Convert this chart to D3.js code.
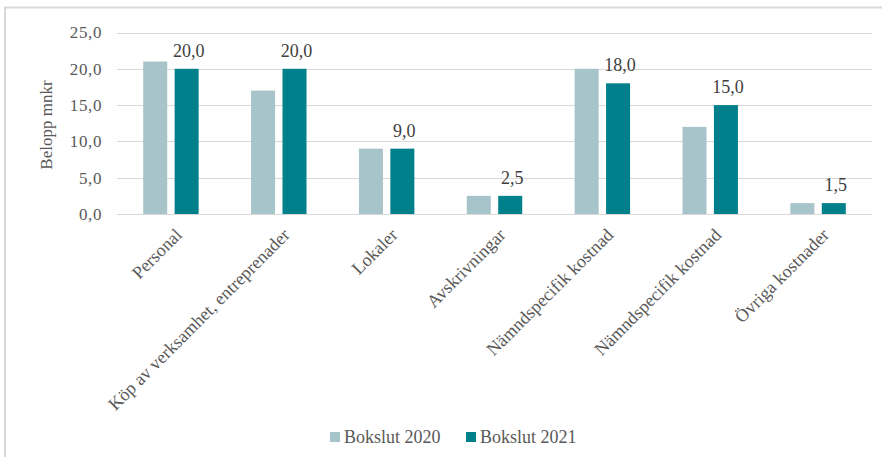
<!doctype html>
<html lang="sv">
<head>
<meta charset="utf-8">
<title>Bokslut 2020 / 2021</title>
<script src="https://d3js.org/d3.v7.min.js"></script>
<style>
  body { margin: 0; background: #fff; }
</style>
</head>
<body>
<div id="chart"></div>
<script>
// data
var categories = ["Personal", "Köp av verksamhet, entreprenader", "Lokaler", "Avskrivningar",
                  "Nämndspecifik kostnad", "Nämndspecifik kostnad", "Övriga kostnader"];
var seriesNames = ["Bokslut 2020", "Bokslut 2021"];
var values2020 = [21.0, 17.0, 9.0, 2.5, 20.0, 12.0, 1.5];
var values2021 = [20.0, 20.0, 9.0, 2.5, 18.0, 15.0, 1.5];
var yTicks = [0, 5, 10, 15, 20, 25];
var colors = ["#a7c4ca", "#00808b"];

var width = 882, height = 457;
var serif = "'Times New Roman', Times, Tinos, 'Noto Serif', 'DejaVu Serif Condensed', serif";

var rows = categories.map(function(c, i) {
    return {i: i, name: c, vals: [values2020[i], values2021[i]]};
});

var svg = d3.select("#chart").append("svg")
    .attr("width", width)
    .attr("height", height)
    .style("font-family", serif);

// frame (only top and left edges show)
svg.append("path")
    .attr("d", "M5,470V7.5H890")
    .attr("fill", "none")
    .attr("stroke", "#d9d9d9")
    .attr("stroke-width", 2);

var y = d3.scaleLinear().domain([0, 25]).range([214, 32.5]);

var x0 = d3.scaleBand()
    .domain(d3.range(categories.length))
    .range([117, 872])
    .paddingInner(0.486)
    .paddingOuter(0.243);

var x1 = d3.scaleBand()
    .domain([0, 1])
    .range([0, x0.bandwidth()])
    .paddingInner(0.236);

// gridlines
svg.append("g")
    .selectAll("line")
    .data(yTicks)
    .join("line")
    .attr("x1", 117)
    .attr("x2", 872)
    .attr("y1", function(d) { return Math.round(y(d)) + 0.5; })
    .attr("y2", function(d) { return Math.round(y(d)) + 0.5; })
    .attr("stroke", "#d9d9d9")
    .attr("stroke-width", 1);

// y tick labels
svg.append("g")
    .selectAll("text")
    .data(yTicks)
    .join("text")
    .attr("x", 102)
    .attr("y", function(d) { return y(d); })
    .attr("dy", "0.35em")
    .attr("text-anchor", "end")
    .attr("fill", "#595959")
    .style("font-size", "17px")
    .style("letter-spacing", "0.6px")
    .text(function(d) { return d3.format(".1f")(d).replace(".", ","); });

// y axis title
svg.append("text")
    .attr("transform", "translate(52,125) rotate(-90)")
    .attr("text-anchor", "middle")
    .attr("fill", "#595959")
    .style("font-size", "17px")
    .text("Belopp mnkr");

// bars
var groups = svg.append("g")
    .selectAll("g")
    .data(rows)
    .join("g")
    .attr("transform", function(d) { return "translate(" + x0(d.i) + ",0)"; });

groups.selectAll("rect")
    .data(function(d) { return d.vals; })
    .join("rect")
    .attr("x", function(d, j) { return x1(j); })
    .attr("y", function(d) { return y(d); })
    .attr("width", x1.bandwidth())
    .attr("height", function(d) { return y(0) - y(d); })
    .attr("fill", function(d, j) { return colors[j]; });

// data labels on the 2021 series only
groups.append("text")
    .attr("x", function(d) { return x1(1) + x1.bandwidth() / 2 + 2; })
    .attr("y", function(d) { return y(d.vals[1]) - 12; })
    .attr("text-anchor", "middle")
    .attr("fill", "#404040")
    .style("font-size", "18px")
    .text(function(d) { return d3.format(".1f")(d.vals[1]).replace(".", ","); });

// category labels, rotated
svg.append("g")
    .selectAll("text")
    .data(rows)
    .join("text")
    .attr("transform", function(d) {
        return "translate(" + (x0(d.i) + x0.bandwidth() / 2 + 3) + ",227) rotate(-45)";
    })
    .attr("dy", "0.71em")
    .attr("text-anchor", "end")
    .attr("fill", "#595959")
    .style("font-size", "18px")
    .text(function(d) { return d.name; });

// legend
var legendX = [330, 466];
var legend = svg.append("g")
    .selectAll("g")
    .data(seriesNames)
    .join("g")
    .attr("transform", function(d, i) { return "translate(" + legendX[i] + ",432)"; });

legend.append("rect")
    .attr("width", 10)
    .attr("height", 10)
    .attr("fill", function(d, i) { return colors[i]; });

legend.append("text")
    .attr("x", 14)
    .attr("y", 11)
    .attr("fill", "#595959")
    .style("font-size", "18px")
    .text(function(d) { return d; });
</script>
</body>
</html>
